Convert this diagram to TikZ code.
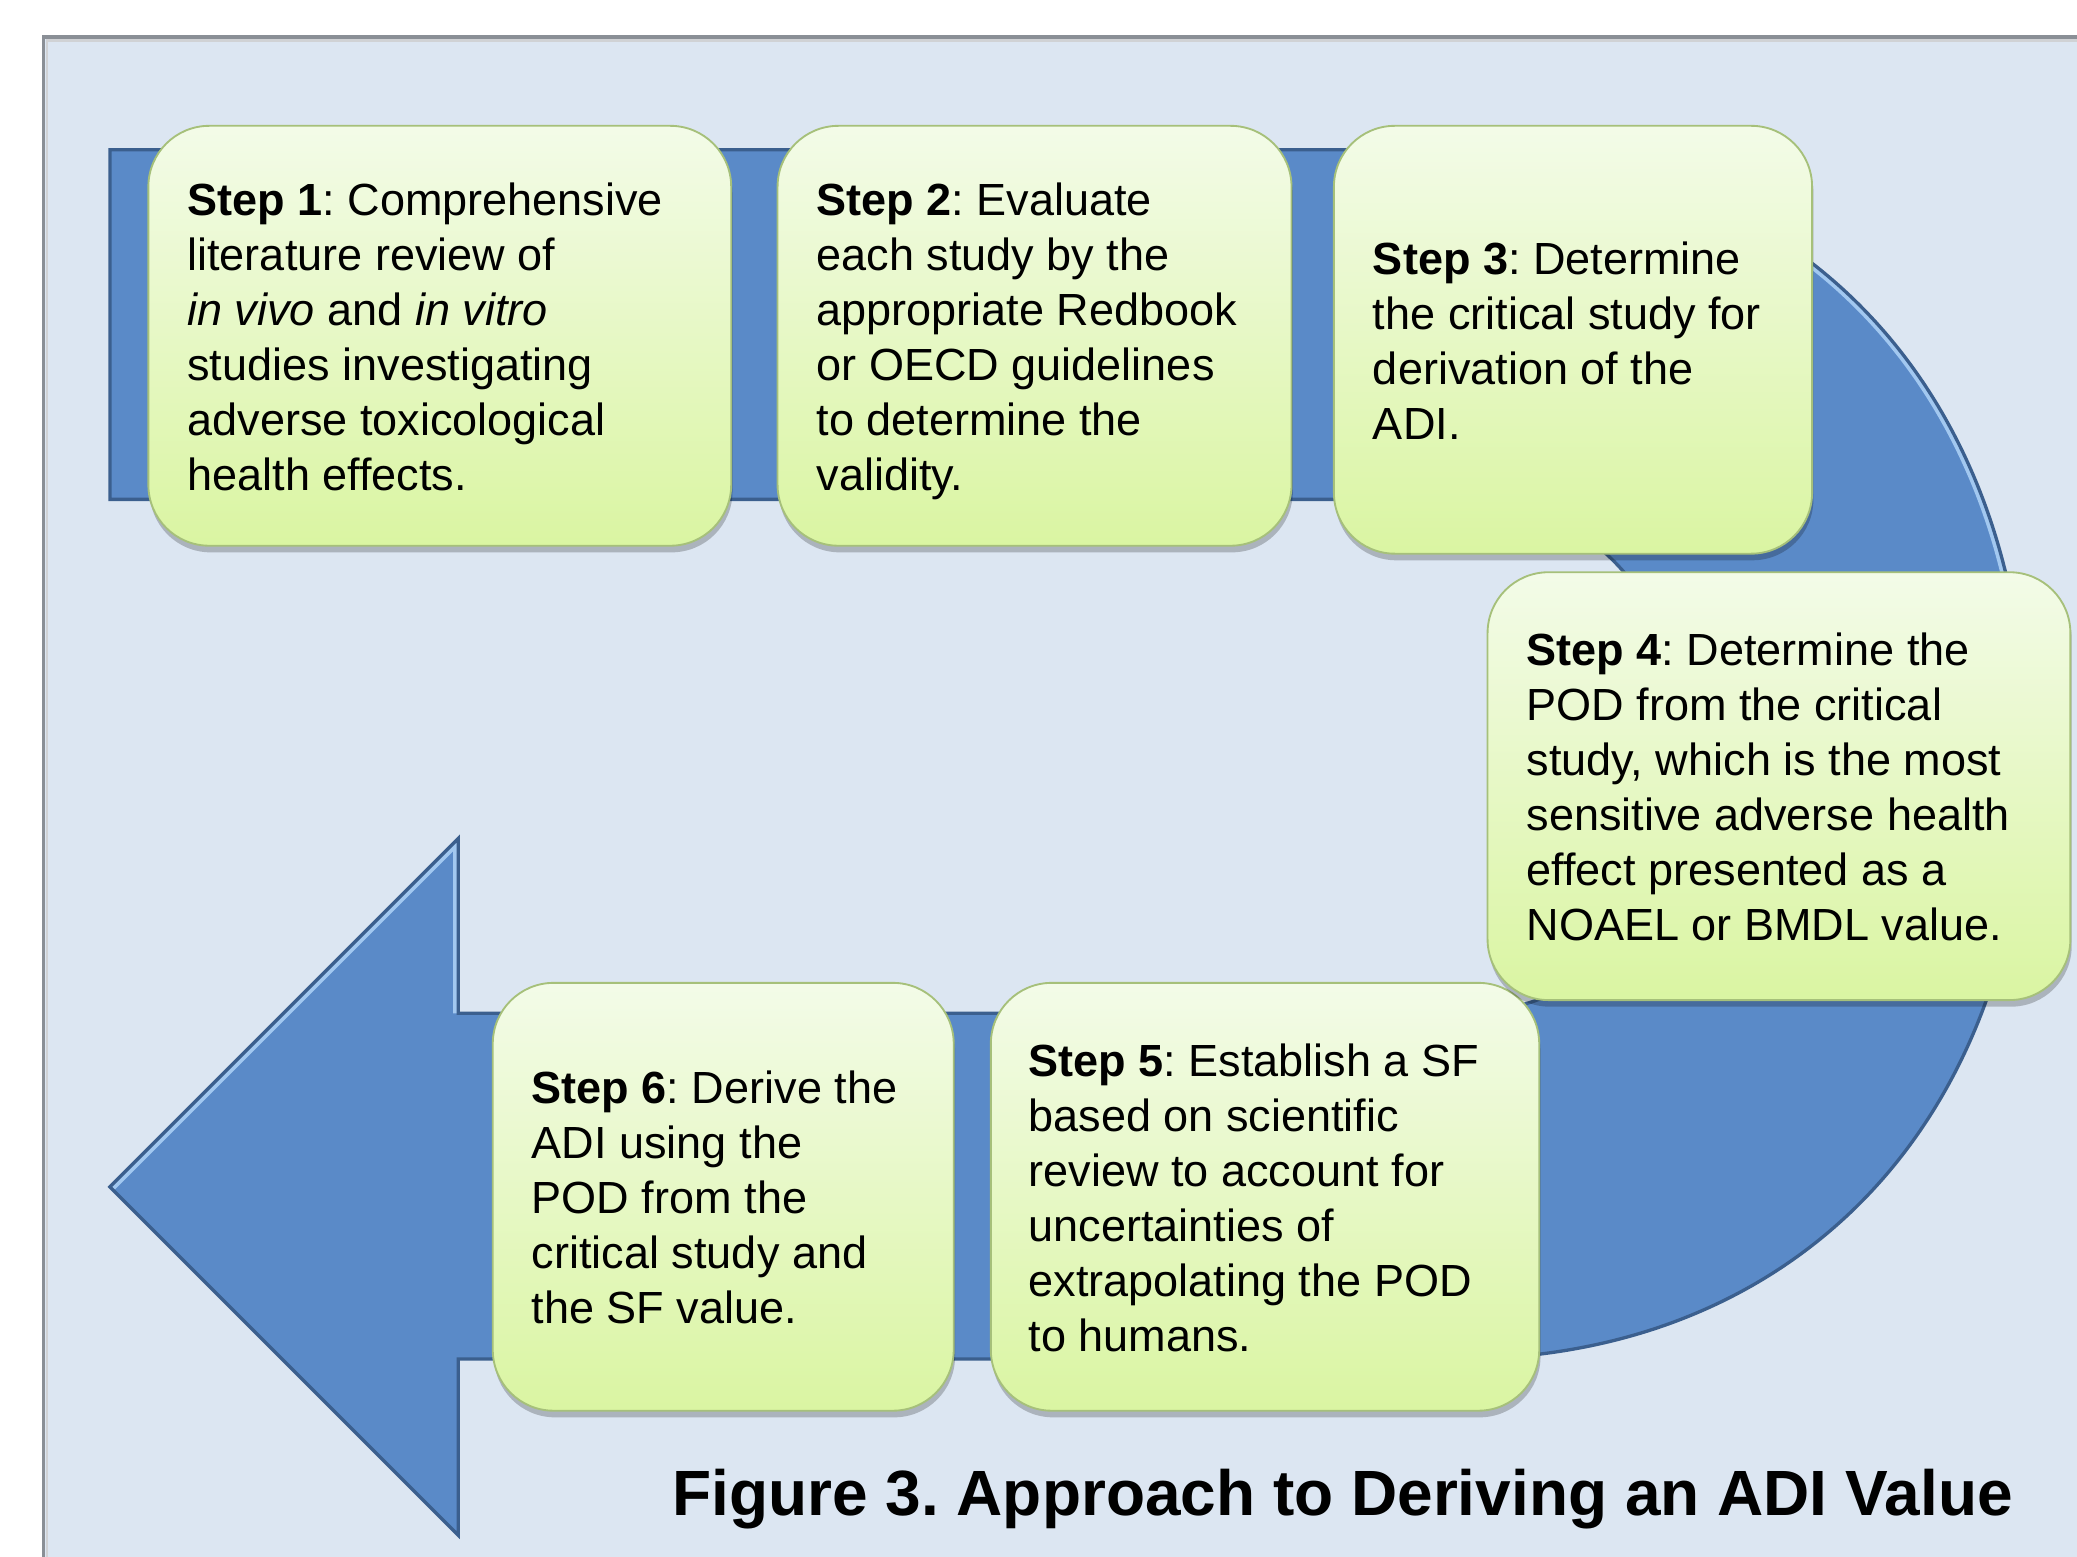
\documentclass[tikz,border=0pt]{standalone}
\usepackage{fontspec}
\setmainfont{Liberation Sans}
\frenchspacing
\usetikzlibrary{shadows}
\definecolor{panelbg}{HTML}{DCE6F2}
\definecolor{panelline}{HTML}{8A8F96}
\definecolor{bandfill}{HTML}{5A8AC8}
\definecolor{bandedge}{HTML}{3B5F8E}
\definecolor{bandlight}{HTML}{A2C8F0}
\definecolor{boxtop}{HTML}{F3FBE8}
\definecolor{boxbot}{HTML}{DAF5A2}
\definecolor{boxedge}{HTML}{A6C07A}
% line-box strut so that every text block is centred the same way
\newcommand{\lbx}{\rule[-9pt]{0pt}{33.6pt}}
% outline of the U-turn band that ends in the arrow head
\def\bandpath{(83,1062) -- (1100,1062)
  .. controls (1358,1062) and (1530,879.4) .. (1530,605.5)
  .. controls (1530,331.6) and (1358,149) .. (1100,149)
  -- (346,149) -- (346,16) -- (83,279) -- (346,542) -- (346,410)
  -- (1100,410)
  .. controls (1203,410) and (1272,487.6) .. (1272,604)
  .. controls (1272,720.4) and (1203,798) .. (1100,798)
  -- (83,798) -- cycle}
\begin{document}
\begin{tikzpicture}[x=1pt,y=1pt,
  stepbox/.style={rectangle, rounded corners=46pt, inner sep=0pt,
    top color=boxtop, bottom color=boxbot, draw=boxedge, line width=1.4pt,
    drop shadow={shadow xshift=1pt, shadow yshift=-5pt, opacity=0.22, fill=black}},
  steptext/.style={anchor=west, inner sep=0pt, align=left, yshift=-5pt,
    font=\fontsize{34}{41.5}\selectfont},
  titletext/.style={anchor=base, inner sep=0pt,
    font=\fontsize{48.3}{56}\selectfont\bfseries}]

\useasboundingbox (0,0) rectangle (1568,1175);
\clip (0,0) rectangle (1568,1175);
\fill[white] (0,0) rectangle (1568,1175);

% background panel
\fill[panelbg] (33,-20) rectangle (1600,1147);
\draw[panelline, line width=2.5pt] (33,-20) -- (33,1147) -- (1600,1147);
\draw[panelline!40, line width=2pt] (35.5,-20) -- (35.5,1144.5) -- (1600,1144.5);

% band body
\fill[bandfill] \bandpath;
% light bevel inside the outer bend and the upper edges of the head
\begin{scope}
  \clip \bandpath;
  \draw[bandlight, line width=8pt]
    (1100,1062) .. controls (1358,1062) and (1530,879.4) .. (1530,605.5);
  \draw[bandlight, line width=8pt] (83,279) -- (346,542) -- (346,410);
\end{scope}
\draw[bandedge, line width=2.5pt, line join=miter] \bandpath;

% step boxes
\node[stepbox, minimum width=440pt, minimum height=317pt] (b1) at (332,921.5) {};
\node[stepbox, minimum width=388pt, minimum height=317pt] (b2) at (781,921.5) {};
\node[stepbox, minimum width=361pt, minimum height=323pt] (b3) at (1187.5,918.5) {};
\node[stepbox, minimum width=414pt, minimum height=323pt] (b5) at (955,271.5) {};
\node[stepbox, minimum width=348pt, minimum height=323pt] (b6) at (546,271.5) {};
\node[stepbox, minimum width=440pt, minimum height=323pt] (b4) at (1343,581.5) {};

\node[steptext] (t1) at ([xshift=30pt]b1.west)
  {\lbx\textbf{Step 1}: Comprehensive\\literature review of\\\textit{in vivo} and \textit{in vitro}\\studies investigating\\adverse toxicological\\\lbx health effects.};
\node[steptext] (t2) at ([xshift=30pt]b2.west)
  {\lbx\textbf{Step 2}: Evaluate\\each study by the\\appropriate Redbook\\or OECD guidelines\\to determine the\\\lbx validity.};
\node[steptext] (t3) at ([xshift=30pt]b3.west)
  {\lbx\textbf{Step 3}: Determine\\the critical study for\\derivation of the\\\lbx ADI.};
\node[steptext] (t4) at ([xshift=30pt]b4.west)
  {\lbx\textbf{Step 4}: Determine the\\POD from the critical\\study, which is the most\\sensitive adverse health\\effect presented as a\\\lbx NOAEL or BMDL value.};
\node[steptext] (t5) at ([xshift=29pt]b5.west)
  {\lbx\textbf{Step 5}: Establish a SF\\based on scientific\\review to account for\\uncertainties of\\extrapolating the POD\\\lbx to humans.};
\node[steptext] (t6) at ([xshift=30pt]b6.west)
  {\lbx\textbf{Step 6}: Derive the\\ADI using the\\POD from the\\critical study and\\\lbx the SF value.};

% caption
\node[titletext] (title) at (1013.5,31) {Figure 3. Approach to Deriving an ADI Value};
\end{tikzpicture}
\end{document}
